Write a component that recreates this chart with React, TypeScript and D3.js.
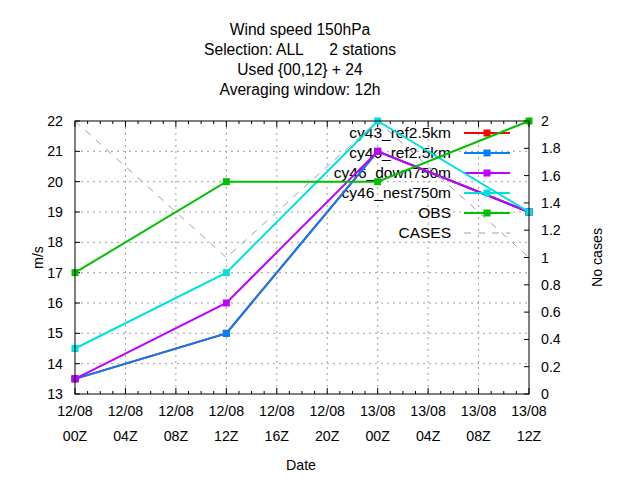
import React from "react";
import * as d3 from "d3";

// hours since 12/08 00Z
const hours = [0, 12, 24, 36];
const cy43Ref = [13.5, 15, 21, 19];
const cy46Ref = [13.5, 15, 21, 19];
const cy46Down = [13.5, 16, 21, 19];
const cy46Nest = [14.5, 17, 22, 19];
const obs = [17, 20, 20, 22];
const cases = [2, 1, 2, 1];

const xTickHours = [0, 4, 8, 12, 16, 20, 24, 28, 32, 36];
const xTickDays = ["12/08", "12/08", "12/08", "12/08", "12/08", "12/08", "13/08", "13/08", "13/08", "13/08"];
const xTickTimes = ["00Z", "04Z", "08Z", "12Z", "16Z", "20Z", "00Z", "04Z", "08Z", "12Z"];
const yTicks = [13, 14, 15, 16, 17, 18, 19, 20, 21, 22];
const y2Ticks = [0, 0.2, 0.4, 0.6, 0.8, 1, 1.2, 1.4, 1.6, 1.8, 2];

const titleLines = ["Wind speed 150hPa", "Selection: ALL      2 stations", "Used {00,12} + 24", "Averaging window: 12h"];

const series = [
  { name: "cy43_ref2.5km", values: cy43Ref, color: "#ff0000" },
  { name: "cy46_ref2.5km", values: cy46Ref, color: "#0080ff" },
  { name: "cy46_down750m", values: cy46Down, color: "#c000ff" },
  { name: "cy46_nest750m", values: cy46Nest, color: "#00e0e0" },
  { name: "OBS", values: obs, color: "#00c000" },
];

const W = 640;
const H = 480;
const m = { left: 75, right: 529, top: 121, bottom: 394 };
const font = "'Liberation Sans', Arial, sans-serif";
const grey = "#a0a0a0";

export default function App() {
  const x = d3.scaleLinear().domain([0, 36]).range([m.left, m.right]);
  const y = d3.scaleLinear().domain([13, 22]).range([m.bottom, m.top]);
  const y2 = d3.scaleLinear().domain([0, 2]).range([m.bottom, m.top]);

  const line = d3
    .line<number>()
    .x((_, i) => x(hours[i]))
    .y((d) => y(d));
  const line2 = d3
    .line<number>()
    .x((_, i) => x(hours[i]))
    .y((d) => y2(d));

  const minor = d3.range(0, 37, 1).filter((h) => h % 4 !== 0);
  const legendY = (i: number) => 133 + i * 20;

  return (
    <svg
      width={W}
      height={H}
      style={{ position: "absolute", left: 0, top: 0, background: "#fff" }}
      fontFamily={font}
    >
      <rect width={W} height={H} fill="#fff" />
      {/* title */}
      {titleLines.map((t, i) => (
        <text
          key={t}
          x={300}
          y={35 + i * 20}
          textAnchor="middle"
          fontSize={15.6}
          style={{ whiteSpace: "pre" }}
        >
          {t}
        </text>
      ))}

      {/* grid */}
      <g stroke={grey} strokeWidth={1} strokeDasharray="2,4">
        {xTickHours.slice(1, -1).map((h) => (
          <line key={"gx" + h} x1={x(h)} x2={x(h)} y1={m.top} y2={m.bottom} />
        ))}
        {yTicks.slice(1, -1).map((v) => (
          <line key={"gy" + v} x1={m.left} x2={m.right} y1={y(v)} y2={y(v)} />
        ))}
      </g>

      {/* ticks */}
      <g stroke="#000" strokeWidth={1}>
        {xTickHours.map((h) => (
          <g key={"t" + h}>
            <line x1={x(h)} x2={x(h)} y1={m.bottom} y2={m.bottom - 6} />
            <line x1={x(h)} x2={x(h)} y1={m.top} y2={m.top + 6} />
          </g>
        ))}
        {minor.map((h) => (
          <g key={"mt" + h}>
            <line x1={x(h)} x2={x(h)} y1={m.bottom} y2={m.bottom - 3} />
            <line x1={x(h)} x2={x(h)} y1={m.top} y2={m.top + 3} />
          </g>
        ))}
        {yTicks.map((v) => (
          <line key={"yt" + v} x1={m.left} x2={m.left + 5} y1={y(v)} y2={y(v)} />
        ))}
        {y2Ticks.map((v) => (
          <line key={"y2t" + v} x1={m.right} x2={m.right - 5} y1={y2(v)} y2={y2(v)} />
        ))}
      </g>

      {/* tick labels */}
      <g fontSize={14.2} fill="#000">
        {xTickHours.map((h, i) => (
          <g key={"xl" + h}>
            <text x={x(h)} y={416} textAnchor="middle">
              {xTickDays[i]}
            </text>
            <text x={x(h)} y={441} textAnchor="middle">
              {xTickTimes[i]}
            </text>
          </g>
        ))}
        {yTicks.map((v) => (
          <text key={"yl" + v} x={m.left - 12} y={y(v) + 5} textAnchor="end">
            {v}
          </text>
        ))}
        {y2Ticks.map((v) => (
          <text key={"y2l" + v} x={m.right + 12} y={y2(v) + 5} textAnchor="start">
            {v}
          </text>
        ))}
        <text x={301} y={470} textAnchor="middle">
          Date
        </text>
        <text transform={`translate(43,${(m.top + m.bottom) / 2}) rotate(-90)`} textAnchor="middle">
          m/s
        </text>
        <text transform={`translate(602,${(m.top + m.bottom) / 2}) rotate(-90)`} textAnchor="middle">
          No cases
        </text>
      </g>

      {/* legend text */}
      <g fontSize={15.5} textAnchor="end">
        {series.map((s, i) => (
          <text key={"lt" + s.name} x={451} y={legendY(i) + 5}>
            {s.name}
          </text>
        ))}
        <text x={451} y={legendY(5) + 5}>
          CASES
        </text>
      </g>

      {/* series */}
      {series.map((s, i) => (
        <g key={s.name} stroke={s.color} fill={s.color}>
          <path d={line(s.values) ?? ""} fill="none" strokeWidth={2} />
          {s.values.map((v, j) => (
            <rect key={j} x={x(hours[j]) - 3.5} y={y(v) - 3.5} width={7} height={7} stroke="none" />
          ))}
          <line x1={464} x2={510} y1={legendY(i)} y2={legendY(i)} strokeWidth={2} />
          <rect x={487 - 3.5} y={legendY(i) - 3.5} width={7} height={7} stroke="none" />
        </g>
      ))}
      <g stroke={grey} fill="none" strokeWidth={1} strokeDasharray="7,7">
        <path d={line2(cases) ?? ""} />
        <line x1={464} x2={510} y1={legendY(5)} y2={legendY(5)} />
      </g>

      {/* border */}
      <rect
        x={m.left}
        y={m.top}
        width={m.right - m.left}
        height={m.bottom - m.top}
        fill="none"
        stroke="#000"
        strokeWidth={1}
      />
    </svg>
  );
}
